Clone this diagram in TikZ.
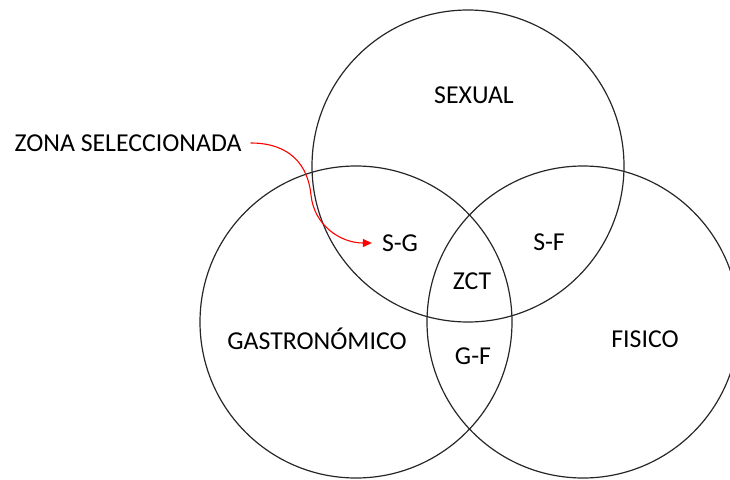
\documentclass[tikz,border=0pt]{standalone}
\usepackage{fontspec}
\setmainfont{Carlito}
\usetikzlibrary{arrows.meta}
\begin{document}
\begin{tikzpicture}[x=1pt,y=-1pt,
  set/.style={draw=black!85,line width=1.2pt},
  lbl/.style={font=\fontsize{25.8}{30}\selectfont,inner sep=2pt},
  pointer/.style={draw=red,line width=1.1pt,-{Triangle[length=9pt,width=8pt]}}]
\useasboundingbox (0,0) rectangle (730,479);
% the three sets
\draw[set] (468,166) circle[radius=156];
\draw[set] (356,322) circle[radius=156];
\draw[set] (583,322) circle[radius=156];
% labels
\node[lbl] (sexual) at (474,95) {SEXUAL};
\node[lbl] (gastro) at (317,339) {GASTRONÓMICO};
\node[lbl] (fisico) at (645,339) {FISICO};
\node[lbl] (sg) at (400,243) {S-G};
\node[lbl] (sf) at (549,242) {S-F};
\node[lbl] (zct) at (472,281) {ZCT};
\node[lbl] (gf) at (473,356) {G-F};
\node[lbl] (zona) at (128,143) {ZONA SELECCIONADA};
% pointer to the selected zone
\coordinate (bend) at (311,195);
\draw[pointer] ([xshift=7pt]zona.east) .. controls (290,143) and (308,165) .. (bend)
  .. controls (314,225) and (340,243) .. ([xshift=-8pt]sg.west);
\end{tikzpicture}
\end{document}
